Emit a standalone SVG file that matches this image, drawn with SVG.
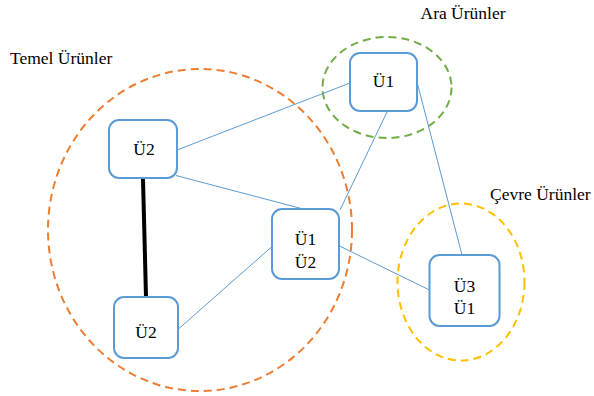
<svg xmlns="http://www.w3.org/2000/svg" width="594" height="396" viewBox="0 0 594 396" font-family="'Liberation Serif', 'Times New Roman', Times, 'DejaVu Serif', serif">
  <style>
    .grp { fill: none; stroke-width: 2; stroke-dasharray: 8 5; }
    .node rect { fill: #ffffff; stroke: #5B9BD5; stroke-width: 2; }
    .link { stroke: #5B9BD5; stroke-width: 1; fill: none; }
    .strong { stroke: #000000; stroke-width: 4; fill: none; }
    text { font-size: 17.5px; fill: #000000; }
    .node text { text-anchor: middle; }
  </style>

  <!-- group outlines -->
  <g id="groups">
    <ellipse class="grp" cx="200" cy="230" rx="152" ry="161" stroke="#ED7D31"/>
    <ellipse class="grp" cx="387" cy="87.5" rx="64.5" ry="50.5" stroke="#70AD47"/>
    <ellipse class="grp" cx="461" cy="282" rx="63.5" ry="78.5" stroke="#FFC000"/>
  </g>

  <!-- group titles -->
  <g id="labels">
    <text x="10" y="64">Temel Ürünler</text>
    <text x="420.5" y="18.5">Ara Ürünler</text>
    <text x="490" y="199.5">Çevre Ürünler</text>
  </g>

  <!-- connectors -->
  <g id="connectors">
    <line class="strong" x1="143" y1="179" x2="146" y2="297"/>
    <line class="link" x1="350" y1="83" x2="177" y2="150"/>
    <line class="link" x1="176" y1="175.5" x2="305" y2="209.5"/>
    <line class="link" x1="340" y1="210" x2="387.5" y2="111"/>
    <line class="link" x1="417" y1="82" x2="462" y2="255"/>
    <line class="link" x1="339.5" y1="246" x2="429.5" y2="290"/>
    <line class="link" x1="179" y1="328.5" x2="272" y2="246.5"/>
  </g>

  <!-- nodes -->
  <g id="node-temel-u2-top" class="node">
    <rect x="109" y="120" width="68" height="58" rx="10"/>
    <text x="144" y="155">Ü2</text>
  </g>
  <g id="node-temel-u2-bottom" class="node">
    <rect x="114" y="297" width="64" height="61" rx="10"/>
    <text x="146" y="337.5">Ü2</text>
  </g>
  <g id="node-temel-u1-u2" class="node">
    <rect x="272" y="209" width="67" height="70" rx="10"/>
    <text x="305.5" y="245">Ü1</text>
    <text x="305.5" y="267.5">Ü2</text>
  </g>
  <g id="node-ara-u1" class="node">
    <rect x="350" y="53" width="67" height="58" rx="10"/>
    <text x="383.5" y="87">Ü1</text>
  </g>
  <g id="node-cevre-u3-u1" class="node">
    <rect x="429.5" y="255" width="70" height="71" rx="10"/>
    <text x="464.5" y="291.5">Ü3</text>
    <text x="464.5" y="313.5">Ü1</text>
  </g>
</svg>
